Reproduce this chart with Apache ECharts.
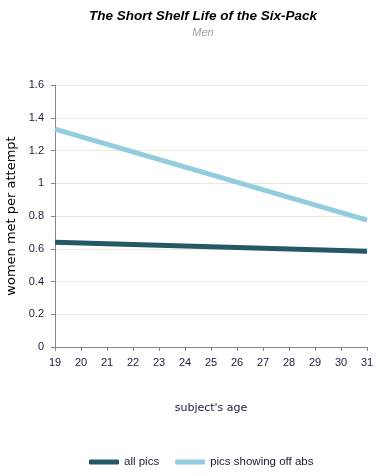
<!DOCTYPE html>
<html><head><meta charset="utf-8">
<script src="https://cdn.jsdelivr.net/npm/echarts@6/dist/echarts.min.js"></script>
<style>html,body{margin:0;padding:0;background:#fff}#c{width:387px;height:476px}</style>
</head><body><div id="c"></div>
<script>
var ages = [19, 31];
var allPics = [0.64, 0.585];
var absPics = [1.33, 0.775];
var yTicks = [0, 0.2, 0.4, 0.6, 0.8, 1, 1.2, 1.4, 1.6];

var chart = echarts.init(document.getElementById('c'));
var font = 'Liberation Sans';
var wide = 'DejaVu Sans';
chart.setOption({
  animation: false,
  title: {
    text: 'The Short Shelf Life of the Six-Pack',
    subtext: 'Men',
    left: 198, textAlign: 'center', top: 4, itemGap: 4,
    textStyle: {fontFamily: font, fontSize: 13.5, fontWeight: 'bold', fontStyle: 'italic', color: '#000'},
    subtextStyle: {fontFamily: font, fontSize: 11, fontStyle: 'italic', color: '#a0a0a0'}
  },
  legend: {
    bottom: 3, left: 84, itemWidth: 30, itemHeight: 5, itemGap: 16,
    icon: 'roundRect',
    textStyle: {fontFamily: font, fontSize: 11.5, color: '#1a1a3a'},
    data: ['all pics', 'pics showing off abs']
  },
  grid: {left: 55, right: 20, top: 85, bottom: 129, containLabel: false, outerBoundsMode: 'none'},
  xAxis: {
    type: 'value', min: 19, max: 31, interval: 1,
    name: "subject's age", nameLocation: 'middle', nameGap: 56,
    nameTextStyle: {fontFamily: wide, fontSize: 11, color: '#1a1a3a'},
    axisLine: {lineStyle: {color: '#868686'}},
    axisTick: {show: true, length: 4, lineStyle: {color: '#868686'}},
    axisLabel: {fontFamily: font, fontSize: 11, color: '#1a1a3a', margin: 10},
    splitLine: {show: false}
  },
  yAxis: {
    type: 'value', min: 0, max: 1.6, interval: 0.2,
    name: 'women met per attempt', nameLocation: 'middle', nameGap: 36,
    nameTextStyle: {fontFamily: wide, fontSize: 13, color: '#000'},
    axisLine: {show: true, lineStyle: {color: '#868686'}},
    axisTick: {show: true, length: 4, lineStyle: {color: '#868686'}},
    axisLabel: {fontFamily: font, fontSize: 11, color: '#1a1a3a', margin: 11,
      formatter: function (v) { return yTicks.indexOf(+v.toFixed(1)) >= 0 ? String(+v.toFixed(1)) : ''; }},
    splitLine: {lineStyle: {color: '#ece9d8'}}
  },
  series: [
    {name: 'all pics', type: 'line', symbol: 'none', lineStyle: {width: 5, color: '#255866'}, itemStyle: {color: '#255866'},
      data: ages.map(function (a, i) { return [a, allPics[i]]; })},
    {name: 'pics showing off abs', type: 'line', symbol: 'none', lineStyle: {width: 5, color: '#93cddd'}, itemStyle: {color: '#93cddd'},
      data: ages.map(function (a, i) { return [a, absPics[i]]; })}
  ]
});
</script></body></html>
